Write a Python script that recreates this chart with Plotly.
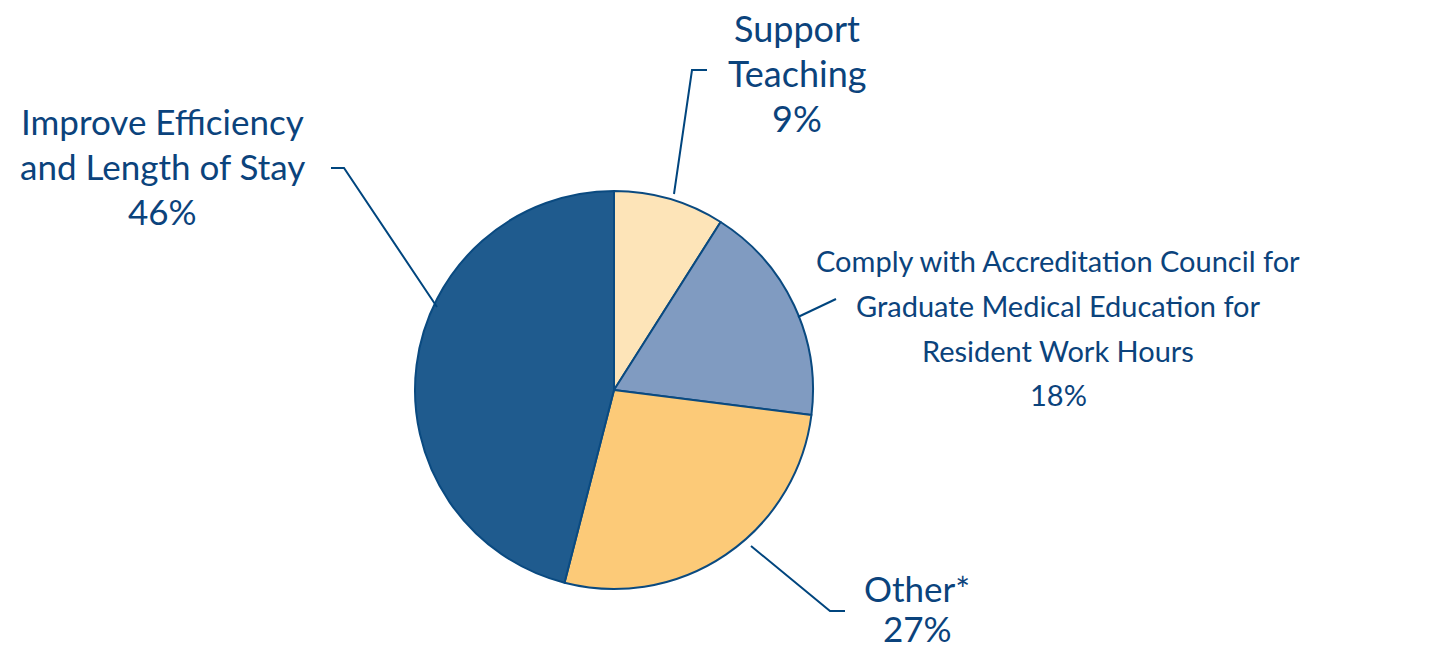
import plotly.graph_objects as go

# Share of responses by primary goal
labels = [
    "Support Teaching",
    "Comply with Accreditation Council for Graduate Medical Education for Resident Work Hours",
    "Other*",
    "Improve Efficiency and Length of Stay",
]
values = [9, 18, 27, 46]
label_lines = [
    ["Support", "Teaching"],
    ["Comply with Accreditation Council for", "Graduate Medical Education for", "Resident Work Hours"],
    ["Other*"],
    ["Improve Efficiency", "and Length of Stay"],
]
colors = ["#FDE4B8", "#809BC1", "#FCCA78", "#1F5B8E"]

W, H = 1437, 649
INK = "#0B437C"
FONT = "Lato, sans-serif"

# pie placement in pixels (centre and radius)
cx, cy, r = 614, 390, 199


def px(x, y):
    return x / W, 1 - y / H


x0, y0 = px(cx - r, cy + r)
x1, y1 = px(cx + r, cy - r)

fig = go.Figure(
    go.Pie(
        labels=labels,
        values=values,
        sort=False,
        direction="clockwise",
        rotation=0,
        marker=dict(colors=colors, line=dict(color="#0A4A80", width=2)),
        textinfo="none",
        hoverinfo="label+percent",
        showlegend=False,
        domain=dict(x=[x0, x1], y=[y0, y1]),
    )
)

# label blocks: centre x, first-line y (pixels), font size, line step
label_style = [
    (797, 28, 36, 45),
    (1058, 261, 29, 44.5),
    (917, 588, 35, 40),
    (162, 121, 35, 45),
]
# leader lines: pixel polylines from the label to the slice edge
leaders = [
    [(707, 70), (692, 70), (674, 194)],
    [(836, 299), (798, 317)],
    [(845, 611), (830, 611), (751, 546)],
    [(331, 168), (344, 168), (437, 307)],
]

annotations = []
for lines, v, (lx, ly, size, step) in zip(label_lines, values, label_style):
    for i, line in enumerate(lines + [f"{v}%"]):
        ax, ay = px(lx, ly + i * step)
        annotations.append(
            dict(
                x=ax, y=ay, xref="paper", yref="paper",
                text=line,
                showarrow=False, align="center",
                xanchor="center", yanchor="middle",
                font=dict(family=FONT, size=size, color=INK),
            )
        )

shapes = []
for pts in leaders:
    path = "M " + " L ".join(f"{px(x, y)[0]:.5f},{px(x, y)[1]:.5f}" for x, y in pts)
    shapes.append(
        dict(type="path", xref="paper", yref="paper", path=path,
             line=dict(color="#00457E", width=2))
    )

fig.update_layout(
    width=W, height=H,
    margin=dict(l=0, r=0, t=0, b=0),
    paper_bgcolor="white", plot_bgcolor="white",
    annotations=annotations, shapes=shapes,
)

fig.write_html("out.html")
